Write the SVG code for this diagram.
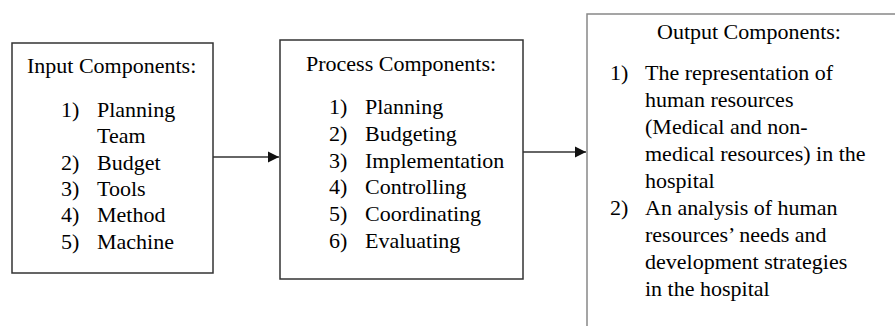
<svg xmlns="http://www.w3.org/2000/svg" width="895" height="326" viewBox="0 0 895 326">
<defs>
<marker id="arr" markerWidth="12" markerHeight="12" refX="11" refY="6" orient="auto" markerUnits="userSpaceOnUse">
<path d="M0,0.5 L11,6 L0,11.5 Z" fill="#111"/>
</marker>
</defs>
<rect width="895" height="326" fill="#fff"/>
<g id="input">
<rect x="12" y="43" width="201" height="230" fill="#fff" stroke="#333" stroke-width="1.5"/>
<text font-family="Liberation Serif" font-size="22" x="27" y="73">Input Components:</text>
<text font-family="Liberation Serif" font-size="22" x="61" y="117">1)</text><text font-family="Liberation Serif" font-size="22" x="97" y="117">Planning</text>
<text font-family="Liberation Serif" font-size="22" x="97" y="143">Team</text>
<text font-family="Liberation Serif" font-size="22" x="61" y="170">2)</text><text font-family="Liberation Serif" font-size="22" x="97" y="170">Budget</text>
<text font-family="Liberation Serif" font-size="22" x="61" y="196">3)</text><text font-family="Liberation Serif" font-size="22" x="97" y="196">Tools</text>
<text font-family="Liberation Serif" font-size="22" x="61" y="222">4)</text><text font-family="Liberation Serif" font-size="22" x="97" y="222">Method</text>
<text font-family="Liberation Serif" font-size="22" x="61" y="249">5)</text><text font-family="Liberation Serif" font-size="22" x="97" y="249">Machine</text>
</g>
<g id="process">
<rect x="280" y="40" width="243" height="239" fill="#fff" stroke="#333" stroke-width="1.5"/>
<text font-family="Liberation Serif" font-size="22" x="306" y="71">Process Components:</text>
<text font-family="Liberation Serif" font-size="22" x="329" y="114">1)</text><text font-family="Liberation Serif" font-size="22" x="365" y="114">Planning</text>
<text font-family="Liberation Serif" font-size="22" x="329" y="141">2)</text><text font-family="Liberation Serif" font-size="22" x="365" y="141">Budgeting</text>
<text font-family="Liberation Serif" font-size="22" x="329" y="168">3)</text><text font-family="Liberation Serif" font-size="22" x="365" y="168">Implementation</text>
<text font-family="Liberation Serif" font-size="22" x="329" y="194">4)</text><text font-family="Liberation Serif" font-size="22" x="365" y="194">Controlling</text>
<text font-family="Liberation Serif" font-size="22" x="329" y="221">5)</text><text font-family="Liberation Serif" font-size="22" x="365" y="221">Coordinating</text>
<text font-family="Liberation Serif" font-size="22" x="329" y="248">6)</text><text font-family="Liberation Serif" font-size="22" x="365" y="248">Evaluating</text>
</g>
<g id="output">
<path d="M587,330 L587,14 L900,14" fill="none" stroke="#888" stroke-width="1.5"/>
<text font-family="Liberation Serif" font-size="22" x="657" y="39">Output Components:</text>
<text font-family="Liberation Serif" font-size="22" x="610" y="80">1)</text><text font-family="Liberation Serif" font-size="22" x="645" y="80">The representation of</text>
<text font-family="Liberation Serif" font-size="22" x="645" y="107">human resources</text>
<text font-family="Liberation Serif" font-size="22" x="645" y="134">(Medical and non-</text>
<text font-family="Liberation Serif" font-size="22" x="645" y="161">medical resources) in the</text>
<text font-family="Liberation Serif" font-size="22" x="645" y="188">hospital</text>
<text font-family="Liberation Serif" font-size="22" x="610" y="215">2)</text><text font-family="Liberation Serif" font-size="22" x="645" y="215">An analysis of human</text>
<text font-family="Liberation Serif" font-size="22" x="645" y="242">resources’ needs and</text>
<text font-family="Liberation Serif" font-size="22" x="645" y="269">development strategies</text>
<text font-family="Liberation Serif" font-size="22" x="645" y="296">in the hospital</text>
</g>
<g id="connectors" stroke="#333" stroke-width="1.3">
<line x1="213" y1="157" x2="279" y2="157" marker-end="url(#arr)"/>
<line x1="523" y1="152" x2="586" y2="152" marker-end="url(#arr)"/>
</g>
</svg>
